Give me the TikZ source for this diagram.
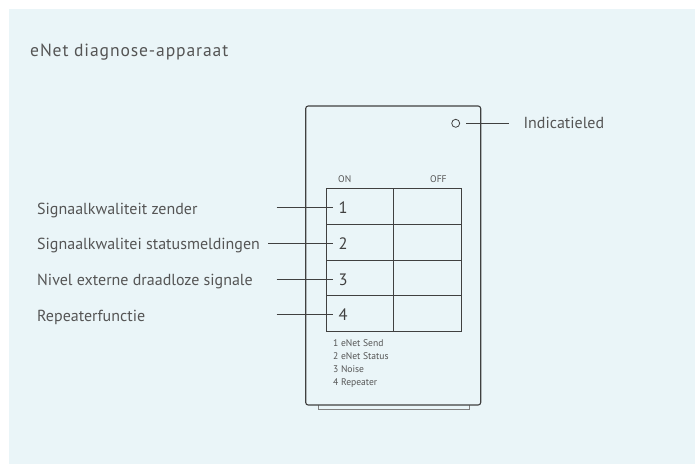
\documentclass[tikz,border=0pt]{standalone}
\usepackage{fontspec}
\setmainfont{PT Sans}
\usepackage{tikz}
\usepackage{xcolor}
\definecolor{bgblue}{HTML}{EAF5F8}
\definecolor{txtgray}{HTML}{555555}
\definecolor{linegray}{HTML}{404040}

\tikzset{
  lbl/.style={anchor=base west,inner sep=0pt,text=txtgray,font=\fontsize{16}{18}\selectfont},
  small/.style={anchor=base west,inner sep=0pt,text=txtgray,font=\fontsize{9.6}{11}\selectfont},
  num/.style={anchor=base west,inner sep=0pt,text=linegray,font=\fontsize{16.5}{18}\selectfont},
  leader/.style={draw=linegray,line width=0.9pt}
}

\begin{document}
\begin{tikzpicture}[x=1pt,y=-1pt]
  \useasboundingbox (0,0) rectangle (695,464);
  \fill[bgblue] (9,9) rectangle (695,464);

  \node[lbl,font=\fontsize{17.6}{20}\selectfont\addfontfeature{LetterSpace=5}] (title) at (30,56) {eNet diagnose-apparaat};

  % device
  \draw[gray,line width=0.9pt,fill=bgblue] (318,403) rectangle (469,409.3);
  \draw[linegray,line width=1.1pt,rounded corners=2.5pt,fill=bgblue] (305.7,106) rectangle (480.7,405);

  % LED
  \node[circle,draw=linegray,line width=0.8pt,minimum size=8pt,inner sep=0pt] (led) at (455.7,123.3) {};
  \node[lbl] (ledlbl) at (523.3,128.3) {Indicatieled};
  \coordinate (ledend) at (509,123.3);
  \draw[leader] ([xshift=6pt]led.east) -- (ledend);

  % switch block
  \node[small] (on) at (338,182.3) {ON};
  \node[small] (off) at (430,182.3) {OFF};
  \draw[linegray,line width=1pt] (326,188.3) rectangle (461,331);
  \draw[linegray,line width=1pt] (393.3,188.3) -- (393.3,331);
  \foreach \y in {224,260,295.7}
    \draw[linegray,line width=1pt] (326,\y) -- (461,\y);

  \foreach \i/\txt/\sx in {1/Signaalkwaliteit zender/276.7,
                           2/Signaalkwalitei statusmeldingen/268,
                           3/Nivel externe draadloze signale/276.7,
                           4/Repeaterfunctie/276.7} {
    \node[lbl] (lbl\i) at (37,{214+35.8*(\i-1)}) {\txt};
    \node[num] (n\i) at (338.5,{213.4+35.8*(\i-1)}) {\i};
    \coordinate (s\i) at (\sx,{207.5+35.8*(\i-1)});
    \draw[leader] (s\i) -- (s\i -| 333.3,0);
  }

  % legend
  \foreach \i/\txt in {1/1 eNet Send,2/2 eNet Status,3/3 Noise,4/4 Repeater}
    \node[small] (leg\i) at (333,{346.3+12.9*(\i-1)}) {\txt};
\end{tikzpicture}
\end{document}
